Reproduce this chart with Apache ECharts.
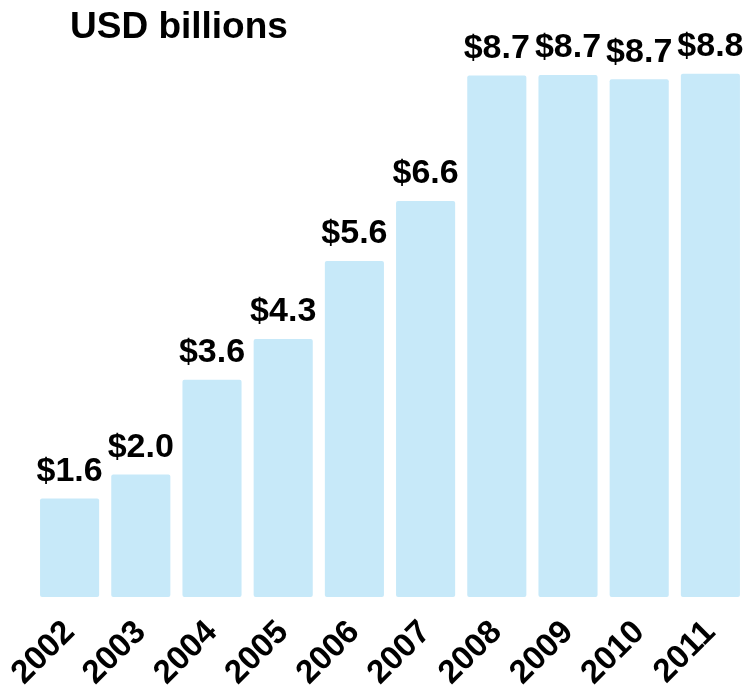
<!DOCTYPE html>
<html>
<head>
<meta charset="utf-8">
<script src="https://cdn.jsdelivr.net/npm/echarts@6/dist/echarts.min.js"></script>
<style>
html,body{margin:0;padding:0;background:#fff;}
#c{width:747px;height:694px;}
</style>
</head>
<body>
<div id="c"></div>
<script>
const years = ['2002','2003','2004','2005','2006','2007','2008','2009','2010','2011'];
const values = [1.64, 2.04, 3.62, 4.3, 5.6, 6.6, 8.69, 8.7, 8.63, 8.72];
const valueLabels = ['$1.6','$2.0','$3.6','$4.3','$5.6','$6.6','$8.7','$8.7','$8.7','$8.8'];
const titleText = 'USD billions';

const FONT = '"Liberation Sans", Arial, Helvetica, sans-serif';
const chart = echarts.init(document.getElementById('c'), null, {renderer: 'canvas'});
chart.setOption({
  animation: false,
  backgroundColor: '#ffffff',
  title: {
    text: titleText,
    left: 65,
    top: 4,
    textStyle: {fontFamily: FONT, fontSize: 37, fontWeight: 'bold', color: '#000'}
  },
  grid: {left: 34, right: 1, top: 57, bottom: 97, outerBoundsMode: 'none'},
  xAxis: {
    type: 'category',
    data: years,
    axisLine: {show: false},
    axisTick: {show: false},
    axisLabel: {
      rotate: 45,
      margin: 30,
      interval: 0,
      fontFamily: FONT,
      fontSize: 33,
      fontWeight: 'bold',
      color: '#000'
    }
  },
  yAxis: {
    type: 'value',
    min: 0,
    max: 9,
    show: false,
    splitLine: {show: false}
  },
  series: [{
    type: 'bar',
    data: values,
    barCategoryGap: '17%',
    itemStyle: {color: '#c7e9f9', borderRadius: 2},
    label: {
      show: true,
      position: 'top',
      distance: 10,
      fontFamily: FONT,
      fontSize: 34,
      fontWeight: 'bold',
      color: '#000',
      formatter: function (p) { return valueLabels[p.dataIndex]; }
    }
  }]
});
</script>
</body>
</html>
